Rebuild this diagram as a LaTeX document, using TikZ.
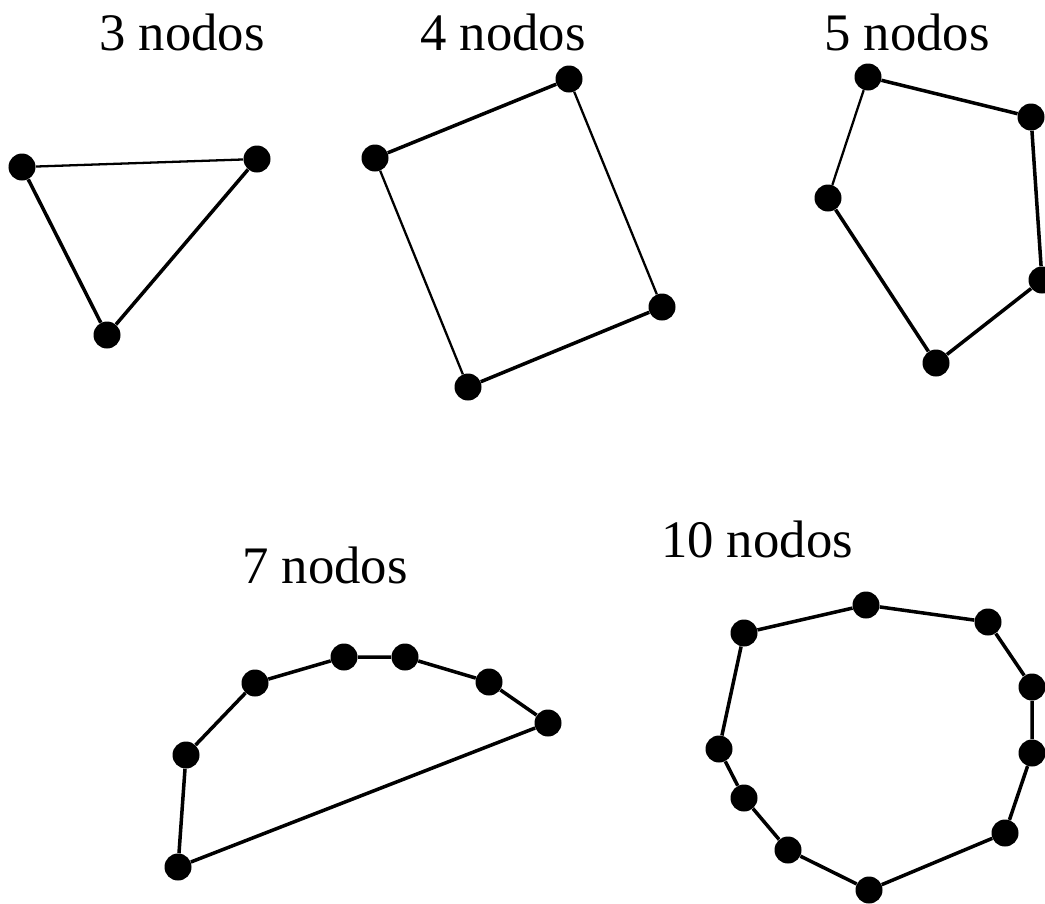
\documentclass[tikz,border=0pt]{standalone}
\usepackage{fontspec}
\setmainfont{Liberation Serif}
\usetikzlibrary{positioning}

\begin{document}
\begin{tikzpicture}[x=0.2mm,y=-0.2mm, dot/.style={circle,fill=black,inner sep=0pt,minimum size=5.4mm}, edge/.style={line width=2pt}, thinedge/.style={line width=1.3pt}, title/.style={anchor=base,font=\fontsize{30}{36}\selectfont}]
\useasboundingbox (0,0) rectangle (1045,903);
% 3 nodos
\node[title] (t3) at (182,50) {3 nodos};
\node[dot] (a1) at (22,167) {};
\node[dot] (a2) at (257,159) {};
\node[dot] (a3) at (107,335) {};
\draw[thinedge] (a1) -- (a2);
\draw[edge] (a2) -- (a3) -- (a1);
% 4 nodos
\node[title] (t4) at (503,50) {4 nodos};
\node[dot] (b1) at (375,158) {};
\node[dot] (b2) at (569,79) {};
\node[dot] (b3) at (662,307) {};
\node[dot] (b4) at (468,387) {};
\draw[edge] (b1) -- (b2);
\draw[thinedge] (b2) -- (b3);
\draw[edge] (b3) -- (b4);
\draw[thinedge] (b4) -- (b1);
% 5 nodos
\node[title] (t5) at (907,50) {5 nodos};
\node[dot] (c1) at (868,77) {};
\node[dot] (c2) at (1031,117) {};
\node[dot] (c3) at (1042,280) {};
\node[dot] (c4) at (936,363) {};
\node[dot] (c5) at (828,198) {};
\draw[edge] (c1) -- (c2) -- (c3) -- (c4) -- (c5);
\draw[thinedge] (c5) -- (c1);
% 7 nodos
\node[title] (t7) at (325,583) {7 nodos};
\node[dot] (d1) at (178,867) {};
\node[dot] (d2) at (186,755) {};
\node[dot] (d3) at (255,683) {};
\node[dot] (d4) at (344,657) {};
\node[dot] (d5) at (405,657) {};
\node[dot] (d6) at (489,682) {};
\node[dot] (d7) at (548,723) {};
\draw[edge] (d1) -- (d2) -- (d3) -- (d4) -- (d5) -- (d6) -- (d7) -- (d1);
% 10 nodos
\node[title] (t10) at (757,557) {10 nodos};
\node[dot] (e1) at (744,633) {};
\node[dot] (e2) at (866,605) {};
\node[dot] (e3) at (988,622) {};
\node[dot] (e4) at (1032,687) {};
\node[dot] (e5) at (1032,753) {};
\node[dot] (e6) at (1005,833) {};
\node[dot] (e7) at (869,890) {};
\node[dot] (e8) at (788,850) {};
\node[dot] (e9) at (744,798) {};
\node[dot] (e10) at (719,749) {};
\draw[edge] (e1) -- (e2) -- (e3) -- (e4) -- (e5) -- (e6) -- (e7) -- (e8) -- (e9) -- (e10) -- (e1);
\end{tikzpicture}
\end{document}
